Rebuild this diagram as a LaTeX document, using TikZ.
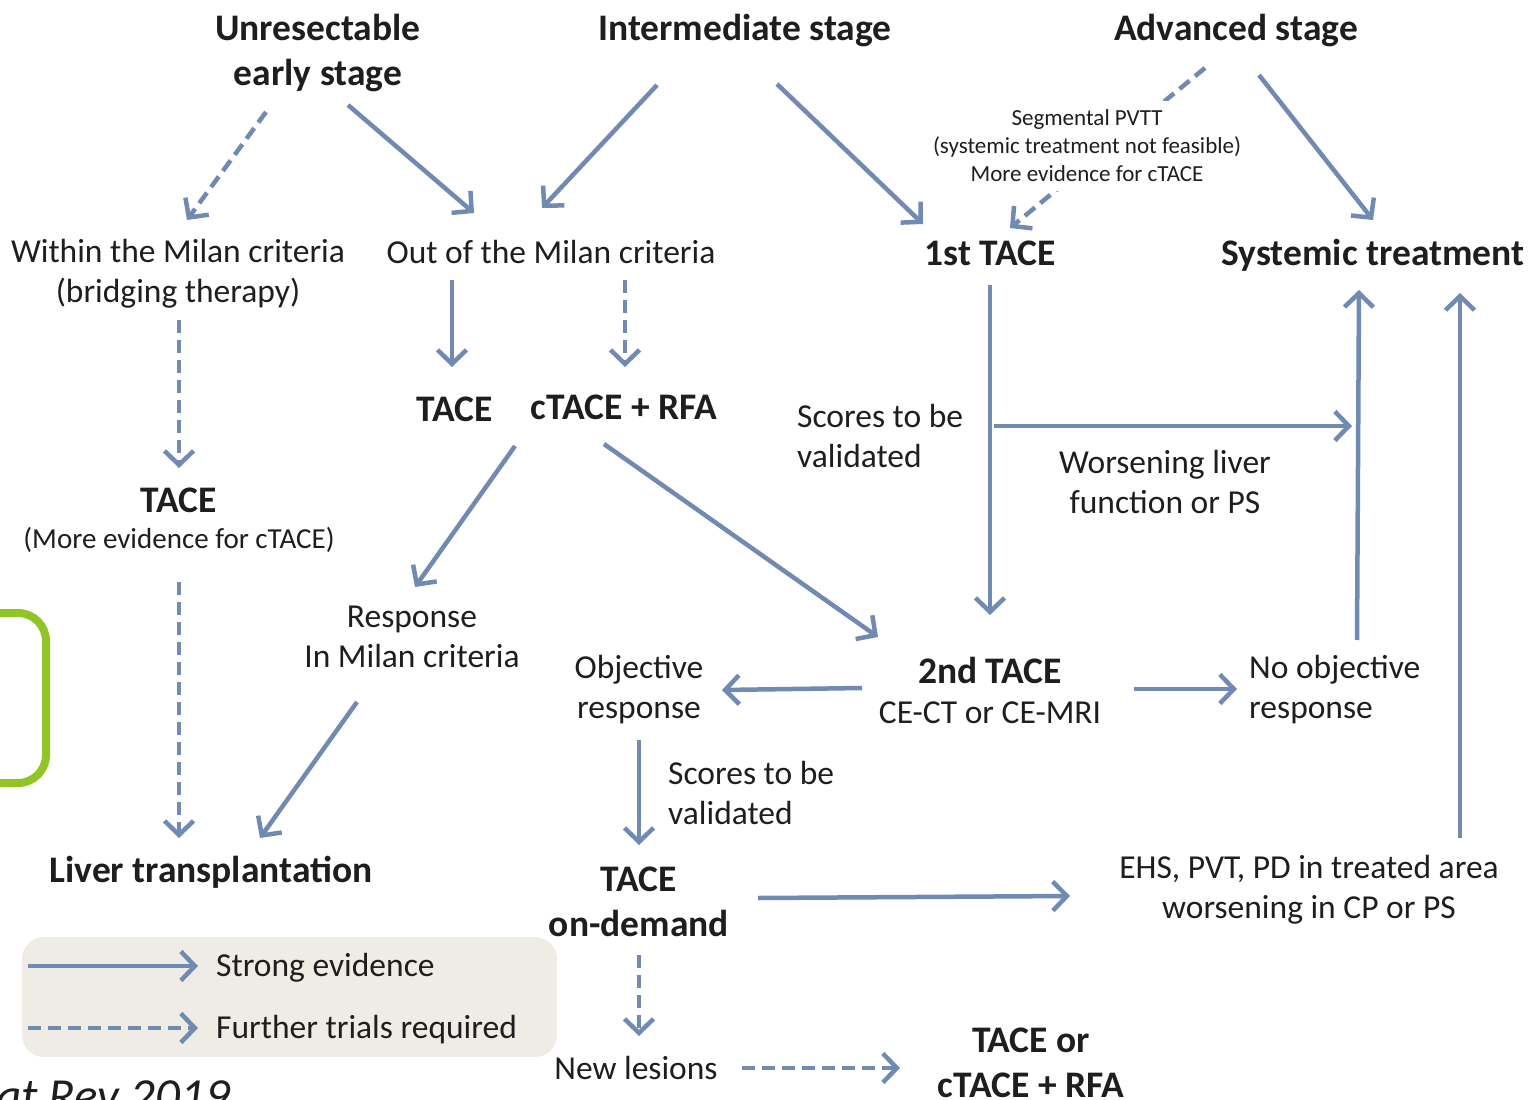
\documentclass[tikz,border=0pt]{standalone}
\usepackage{fontspec}
\setmainfont{Carlito}
\usetikzlibrary{arrows.meta}
\definecolor{arr}{RGB}{112,138,178}
\definecolor{txt}{RGB}{30,30,30}
\definecolor{legfill}{RGB}{239,236,229}
\definecolor{limegr}{RGB}{146,196,38}
\begin{document}
\begin{tikzpicture}[x=1pt,y=-1pt,
  every node/.style={inner sep=0pt, text=txt},
  reg/.style={font=\fontsize{33.5}{40}\selectfont, align=center},
  regl/.style={font=\fontsize{33.5}{40}\selectfont, align=left},
  bld/.style={font=\fontsize{37.5}{45}\selectfont\bfseries, align=center},
  smalltxt/.style={font=\fontsize{23}{28}\selectfont, align=center},
  sarrow/.style={draw=arr, line width=4.5pt, -{Straight Barb[length=14pt,width=29pt]}},
  darrow/.style={sarrow, dash pattern=on 13pt off 7pt},
]
\useasboundingbox (0,0) rectangle (1529,1100);
\clip (0,0) rectangle (1529,1100);

% green bracket
\draw[limegr, line width=8pt, rounded corners=28pt] (-60,613) -- (46,613) -- (46,783) -- (-60,783);

% legend box
\node[fill=legfill, rounded corners=22pt, minimum width=535pt, minimum height=120pt] (legend) at (289.5,997) {};

% nodes
\node[bld] (unres) at (318,53) {Unresectable\\early stage};
\node[bld] (inter) at (745,31) {Intermediate stage};
\node[bld] (adv) at (1236,31) {Advanced stage};
\node[bld] (tace1) at (990,253) {1st TACE};
\node[bld] (systemic) at (1373,255) {Systemic treatment};
\node[reg] (within) at (178,274) {Within the Milan criteria\\(bridging therapy)};
\node[reg] (outmilan) at (551,252) {Out of the Milan criteria};
\node[bld] (taceA) at (455,409) {TACE};
\node[bld] (ctrfa) at (624,407) {cTACE + RFA};
\node[regl, anchor=west] (scores1) at (797,436) {Scores to be\\validated};
\node[reg] (worsen) at (1165,482) {Worsening liver\\function or PS};
\node[bld] (taceL) at (179,500) {TACE};
\node[font=\fontsize{29}{35}\selectfont] (moreev) at (179,540) {(More evidence for cTACE)};
\node[reg] (response) at (412,637) {Response\\In Milan criteria};
\node[reg] (objresp) at (639,690) {Objective\\response};
\node[bld] (tace2) at (990,670) {2nd TACE};
\node[reg] (cect) at (990,713) {CE-CT or CE-MRI};
\node[regl, anchor=west] (noobj) at (1249,690) {No objective\\response};
\node[regl, anchor=west] (scores2) at (668,793) {Scores to be\\validated};
\node[bld] (livertx) at (211,872) {Liver transplantation};
\node[bld] (ondemand) at (639,902) {TACE\\on-demand};
\node[reg] (ehs) at (1309,890) {EHS, PVT, PD in treated area\\worsening in CP or PS};
\node[reg] (newles) at (636,1068) {New lesions};
\node[bld] (taceor) at (1031,1063) {TACE or\\cTACE + RFA};
\node[regl, anchor=west] (strongtxt) at (216,968) {Strong evidence};
\node[regl, anchor=west] (furthertxt) at (216,1030) {Further trials required};
\node[anchor=base west, font=\fontsize{49}{55}\selectfont\itshape] (cite) at (-4,1112) {at Rev 2019};

% connector end points
\coordinate (c1a) at (266,112);  \coordinate (c1b) at (187,220);
\coordinate (c2a) at (348,105);  \coordinate (c2b) at (474,213);
\coordinate (c3a) at (657,85);   \coordinate (c3b) at (542,208);
\coordinate (c4a) at (777,84);   \coordinate (c4b) at (923,224);
\coordinate (c5a) at (1205,68);  \coordinate (c5b) at (1010,228);
\coordinate (c6a) at (1259,75);  \coordinate (c6b) at (1373,220);
\coordinate (c7a) at (452,280);  \coordinate (c7b) at (452,367);
\coordinate (c8a) at (625,280);  \coordinate (c8b) at (625,367);
\coordinate (c9a) at (179,320);  \coordinate (c9b) at (179,468);
\coordinate (c10a) at (990,285); \coordinate (c10b) at (990,615);
\coordinate (c11a) at (994,426); \coordinate (c11b) at (1352,426);
\coordinate (c12a) at (1357,640); \coordinate (c12b) at (1359,290);
\coordinate (c13a) at (1460,838); \coordinate (c13b) at (1460,293);
\coordinate (c14a) at (515,446); \coordinate (c14b) at (415,587);
\coordinate (c15a) at (604,444); \coordinate (c15b) at (878,637);
\coordinate (c16a) at (179,582); \coordinate (c16b) at (179,838);
\coordinate (c17a) at (357,702); \coordinate (c17b) at (260,838);
\coordinate (c18a) at (862,688); \coordinate (c18b) at (722,690);
\coordinate (c19a) at (1134,689); \coordinate (c19b) at (1237,689);
\coordinate (c20a) at (639,740); \coordinate (c20b) at (639,845);
\coordinate (c21a) at (758,898); \coordinate (c21b) at (1070,896);
\coordinate (c22a) at (639,955); \coordinate (c22b) at (639,1036);
\coordinate (c23a) at (742,1068); \coordinate (c23b) at (900,1068);
\coordinate (l1a) at (28,966);   \coordinate (l1b) at (198,966);
\coordinate (l2a) at (28,1028);  \coordinate (l2b) at (198,1028);

% connectors
\draw[darrow] (c1a) -- (c1b);
\draw[sarrow] (c2a) -- (c2b);
\draw[sarrow] (c3a) -- (c3b);
\draw[sarrow] (c4a) -- (c4b);
\draw[darrow] (c5a) -- (c5b);
\draw[sarrow] (c6a) -- (c6b);
\draw[sarrow] (c7a) -- (c7b);
\draw[darrow] (c8a) -- (c8b);
\draw[darrow] (c9a) -- (c9b);
\draw[sarrow] (c10a) -- (c10b);
\draw[sarrow] (c11a) -- (c11b);
\draw[sarrow] (c12a) -- (c12b);
\draw[sarrow] (c13a) -- (c13b);
\draw[sarrow] (c14a) -- (c14b);
\draw[sarrow] (c15a) -- (c15b);
\draw[darrow] (c16a) -- (c16b);
\draw[sarrow] (c17a) -- (c17b);
\draw[sarrow] (c18a) -- (c18b);
\draw[sarrow] (c19a) -- (c19b);
\draw[sarrow] (c20a) -- (c20b);
\draw[sarrow] (c21a) -- (c21b);
\draw[darrow] (c22a) -- (c22b);
\draw[darrow] (c23a) -- (c23b);
\draw[sarrow] (l1a) -- (l1b);
\draw[darrow] (l2a) -- (l2b);

% PVTT label on top of the dashed connector
\node[smalltxt, fill=white, inner xsep=4pt, inner ysep=9pt] (pvtt) at (1087,146) {Segmental PVTT\\(systemic treatment not feasible)\\More evidence for cTACE};
\end{tikzpicture}
\end{document}
